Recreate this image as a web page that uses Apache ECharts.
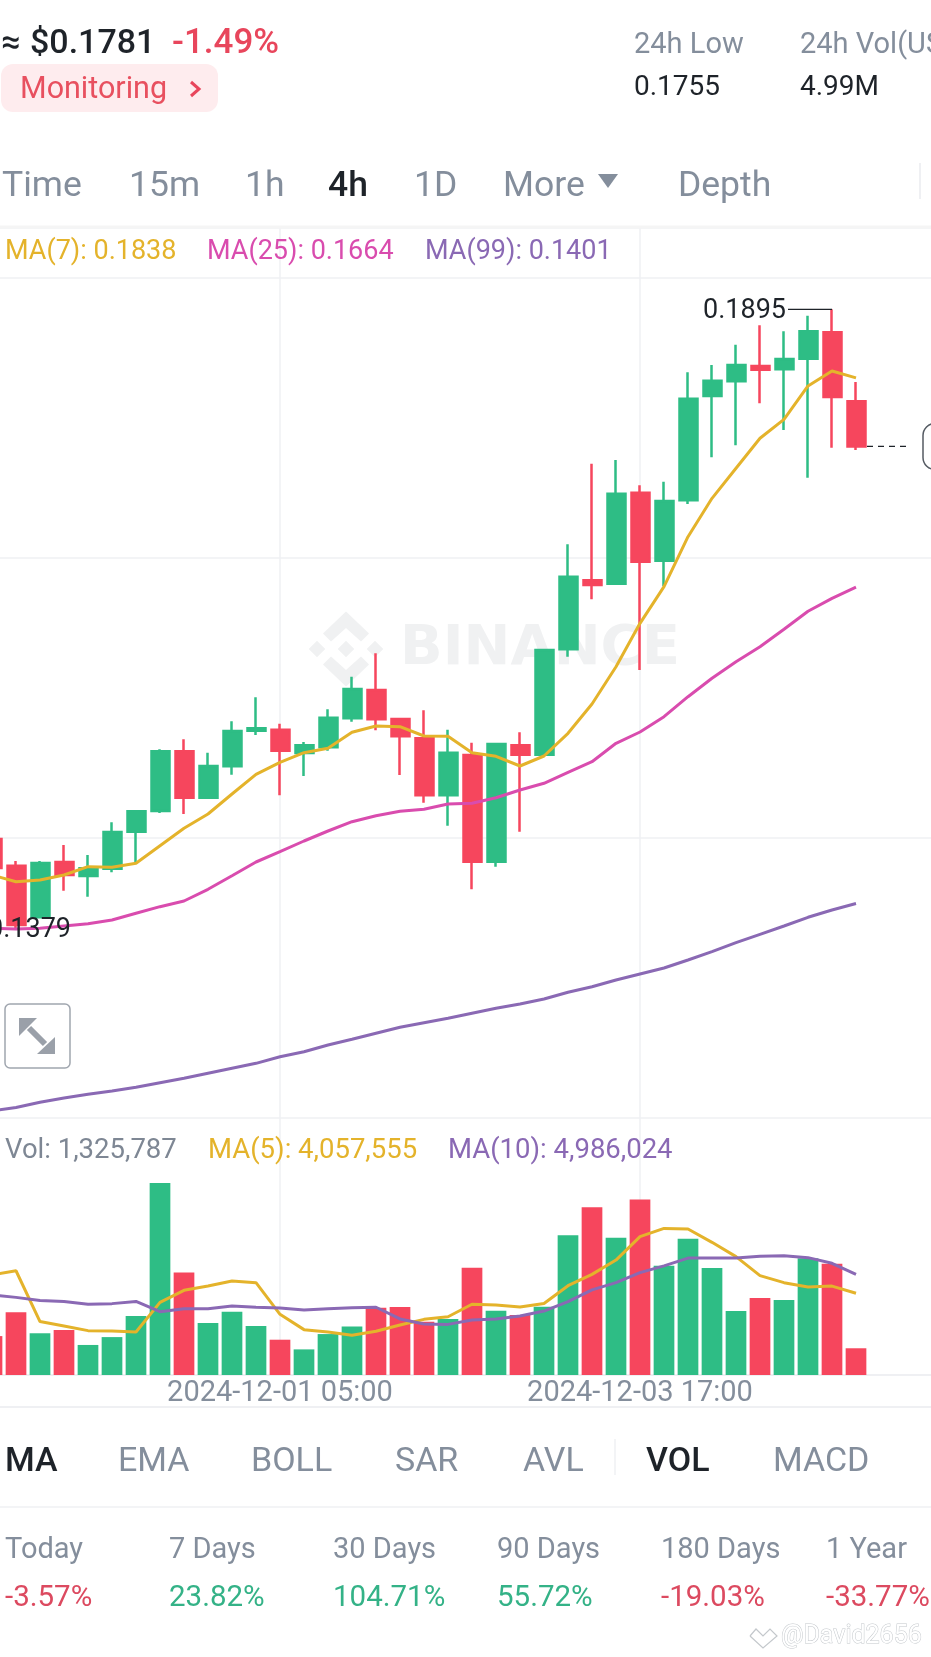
<!DOCTYPE html>
<html>
<head>
<meta charset="utf-8">
<title>4h chart</title>
<script src="https://cdn.jsdelivr.net/npm/echarts@6/dist/echarts.min.js"></script>
<style>
  html, body { margin: 0; padding: 0; background: #fff; overflow: hidden; }
  #chart { width: 931px; height: 1657px; }
</style>
</head>
<body>
<div id="chart"></div>
<script>
// candle times, the last four have no candle yet
var categories = [
  '2024-11-29 05:00','2024-11-29 09:00','2024-11-29 13:00','2024-11-29 17:00','2024-11-29 21:00',
  '2024-11-30 01:00','2024-11-30 05:00','2024-11-30 09:00','2024-11-30 13:00','2024-11-30 17:00','2024-11-30 21:00',
  '2024-12-01 01:00','2024-12-01 05:00','2024-12-01 09:00','2024-12-01 13:00','2024-12-01 17:00','2024-12-01 21:00',
  '2024-12-02 01:00','2024-12-02 05:00','2024-12-02 09:00','2024-12-02 13:00','2024-12-02 17:00','2024-12-02 21:00',
  '2024-12-03 01:00','2024-12-03 05:00','2024-12-03 09:00','2024-12-03 13:00','2024-12-03 17:00','2024-12-03 21:00',
  '2024-12-04 01:00','2024-12-04 05:00','2024-12-04 09:00','2024-12-04 13:00','2024-12-04 17:00','2024-12-04 21:00',
  '2024-12-05 01:00','2024-12-05 05:00','2024-12-05 09:00','2024-12-05 13:00','2024-12-05 17:00','2024-12-05 21:00'
];
var dateLabels = ['2024-12-01 05:00', '2024-12-03 17:00'];

var opens = [
  .145466,.143246,.138957,.14355,.14239,.142997,.146073,.147794,.152756,.148899,.151509,.154469,.154552,.152615,.153089,.1555,
  .157853,.155442,.153837,.149098,.152449,.143578,.153255,.152474,.161235,.166972,.166689,.174254,.168601,.173622,.182293,
  .183514,.184786,.184512,.185393,.187587,.181852
];
var closes = [
  .143055,.138317,.143471,.142473,.14303,.146048,.147769,.152756,.148899,.151534,.154444,.154668,.152806,.153255,.15555,.157936,
  .155417,.154004,.149098,.152639,.143578,.153364,.152474,.161177,.167271,.166581,.174171,.168518,.173564,.182068,.183565,
  .184871,.184479,.185368,.187672,.182209,.1781
];
var lows = [
  .14297,.1379,.13896,.141168,.14067,.142698,.143388,.147627,.147544,.148791,.150811,.154111,.149098,.150705,.152806,.155205,
  .154502,.150788,.148484,.146571,.141284,.143163,.146073,.152474,.160621,.165392,.16669,.159515,.166498,.173314,.177196,
  .178194,.181686,.179466,.175501,.177995,.177803
];
var highs = [
  .14555,.143637,.143637,.144967,.144136,.146854,.147852,.152923,.153754,.152639,.15525,.157246,.155051,.153529,.156248,.158958,
  .160903,.15555,.156165,.154552,.153472,.153447,.154336,.161177,.169964,.176665,.176972,.174877,.175168,.184263,.184871,
  .186556,.18817,.187672,.188968,.1895,.183456
];
var ma7 = [
  .142473,.141916,.142058,.142473,.143163,.143113,.143445,.144908,.146354,.147544,.149205,.150843,.151841,.152639,.153004,.154335,
  .154859,.1548,.154028,.154003,.152639,.15234,.151534,.152366,.154252,.156688,.15979,.163396,.16644,.170596,.173787,
  .176282,.178776,.180355,.183124,.184371,.1838
];
var ma25 = [
  .138042,.137984,.138042,.138233,.138424,.138732,.139289,.13984,.140312,.141285,.142416,.143554,.14441,.1453,.146131,.146904,
  .147403,.147768,.147934,.148375,.148433,.148899,.149539,.150096,.15101,.151891,.153421,.15436,.155632,.157295,.158824,
  .160204,.161451,.162897,.164401,.165474,.1664
];
var ma99 = [
  .122853,.123144,.123577,.123934,.124242,.124516,.124823,.125206,.125571,.125987,.126403,.126818,.127367,.127783,.12834,.128814,
  .129313,.129811,.130194,.13056,.130975,.131391,.131749,.132164,.132721,.133187,.133744,.134243,.134742,.135407,.136097,
  .136845,.137544,.138233,.138957,.139563,.1401
];
var volumes = [
  1.93e6,3.11e6,2.07e6,2.23e6,1.49e6,1.88e6,2.93e6,9.52e6,5.09e6,2.58e6,3.14e6,2.43e6,1.75e6,1.27e6,2.03e6,2.41e6,
  3.34e6,3.37e6,2.64e6,2.78e6,5.32e6,3.19e6,2.98e6,3.39e6,6.93e6,8.32e6,6.81e6,8.71e6,5.42e6,6.76e6,5.31e6,
  3.17e6,3.82e6,3.72e6,5.79e6,5.52e6,1325787
];
var volMa5 = [
  4.96e6,5.17e6,2.65e6,2.43e6,2.2e6,2.18e6,2.13e6,3.6e6,4.2e6,4.41e6,4.66e6,4.58e6,3.01e6,2.25e6,2.13e6,1.97e6,
  2.17e6,2.48e6,2.76e6,2.89e6,3.51e6,3.47e6,3.37e6,3.55e6,4.43e6,4.99e6,5.7e6,6.86e6,7.27e6,7.24e6,6.58e6,
  5.87e6,4.93e6,4.58e6,4.36e6,4.41e6,4057555
];
var volMa10 = [
  3.97e6,3.85e6,3.69e6,3.64e6,3.51e6,3.54e6,3.65e6,3.14e6,3.29e6,3.29e6,3.42e6,3.36e6,3.32e6,3.22e6,3.29e6,3.34e6,
  3.36e6,2.78e6,2.53e6,2.51e6,2.73e6,2.78e6,2.93e6,3.17e6,3.64e6,4.22e6,4.58e6,5.08e6,5.41e6,5.8e6,5.8e6,
  5.8e6,5.89e6,5.92e6,5.82e6,5.54e6,4986024
];

var periodTabs = ['Time', '15m', '1h', '4h', '1D', 'More', 'Depth'];
var periodTabX = [2, 129, 245, 328, 414, 503, 678];
var indicatorTabs = ['MA', 'EMA', 'BOLL', 'SAR', 'AVL', 'VOL', 'MACD'];
var indicatorTabX = [5, 118, 251, 395, 523, 646, 773];
var statNames = ['Today', '7 Days', '30 Days', '90 Days', '180 Days', '1 Year'];
var statValues = ['-3.57%', '23.82%', '104.71%', '55.72%', '-19.03%', '-33.77%'];
var statX = [5, 169, 333, 497, 661, 826];

var UP = '#2EBD85', DOWN = '#F6465D', YELLOW = '#E4B32B', PINK = '#D94CAE', PURPLE = '#8A69B4';
var GREY = '#848E9C', DARK = '#1E2329', LINE = '#EFF0F3';
var FONT = 'Roboto, sans-serif';

var chart = echarts.init(document.getElementById('chart'));

function lineSeries(name, data, color, xi, yi) {
  return {
    name: name, type: 'line', data: data, xAxisIndex: xi, yAxisIndex: yi,
    showSymbol: false, smooth: false, silent: true,
    lineStyle: { color: color, width: 3 }
  };
}

chart.setOption({
  animation: false,
  backgroundColor: '#fff',
  grid: [
    { left: -20, width: 984, top: 228, height: 890, outerBoundsMode: 'none' },
    { left: -20, width: 984, top: 1118, height: 257, outerBoundsMode: 'none' }
  ],
  xAxis: [
    {
      type: 'category', gridIndex: 0, data: categories,
      axisLine: { show: false }, axisTick: { show: false }, axisLabel: { show: false },
      splitLine: {
        show: true, alignWithLabel: true,
        interval: function (i, v) { return dateLabels.indexOf(v) >= 0; },
        lineStyle: { color: LINE, width: 1.5 }
      }
    },
    {
      type: 'category', gridIndex: 1, data: categories,
      axisLine: { show: true, lineStyle: { color: LINE, width: 2 } },
      axisTick: { show: false },
      axisLabel: {
        show: true, margin: 4, color: GREY, fontSize: 29, fontFamily: FONT,
        interval: function (i, v) { return dateLabels.indexOf(v) >= 0; }
      },
      splitLine: {
        show: true, alignWithLabel: true,
        interval: function (i, v) { return dateLabels.indexOf(v) >= 0; },
        lineStyle: { color: LINE, width: 1.5 }
      }
    }
  ],
  yAxis: [
    { type: 'value', gridIndex: 0, min: 0.122273, max: 0.196258, show: false, scale: true },
    // only for the horizontal rules of the price pane
    {
      type: 'value', gridIndex: 0, min: 0, max: 890, interval: 280,
      axisLine: { show: false }, axisTick: { show: false }, axisLabel: { show: false },
      splitLine: { show: true, lineStyle: { color: LINE, width: 1.5 } }
    },
    { type: 'value', gridIndex: 1, min: 0, max: 12747000, show: false }
  ],
  series: [
    {
      name: 'Price', type: 'candlestick', xAxisIndex: 0, yAxisIndex: 0, silent: true,
      barWidth: 18.5,
      data: opens.map(function (o, i) { return [o, closes[i], lows[i], highs[i]]; }),
      itemStyle: { color: UP, color0: DOWN, borderColor: UP, borderColor0: DOWN, borderWidth: 2.5 }
    },
    lineSeries('MA(7)', ma7, YELLOW, 0, 0),
    lineSeries('MA(25)', ma25, PINK, 0, 0),
    lineSeries('MA(99)', ma99, PURPLE, 0, 0),
    {
      name: 'Vol', type: 'bar', xAxisIndex: 1, yAxisIndex: 2, silent: true, barWidth: 20.7,
      data: volumes.map(function (v, i) {
        return { value: v, itemStyle: { color: closes[i] >= opens[i] ? UP : DOWN } };
      })
    },
    lineSeries('MA(5)', volMa5, YELLOW, 1, 2),
    lineSeries('MA(10)', volMa10, PURPLE, 1, 2)
  ]
});

function text(str, x, y, size, color, weight, align) {
  return {
    type: 'text', z: 60, silent: true,
    x: x, y: y + 2.5,
    style: {
      text: str, fill: color,
      font: (weight || 400) + ' ' + size + 'px ' + FONT,
      textAlign: align || 'left', textVerticalAlign: 'middle'
    }
  };
}
function poly(points, fill, z) {
  return { type: 'polygon', z: z, silent: true, shape: { points: points }, style: { fill: fill } };
}
function hline(x1, x2, y, color, width, dash) {
  return {
    type: 'line', z: 40, silent: true, shape: { x1: x1, y1: y, x2: x2, y2: y },
    style: { stroke: color, lineWidth: width, lineDash: dash || null }
  };
}

var items = [];

// header
items.push(text('≈', 1, 42, 34, DARK, 500));
items.push(text('$0.1781', 30, 42, 34, DARK, 500));
items.push(text('-1.49%', 172, 42, 35, '#E8465C', 500));
items.push({ type: 'rect', z: 50, silent: true, shape: { x: 1, y: 64, width: 217, height: 48, r: 12 }, style: { fill: '#FEECEE' } });
items.push(text('Monitoring', 20, 88, 30.5, '#E8505F'));
items.push({ type: 'polyline', z: 60, silent: true, shape: { points: [[191, 82], [199, 89], [191, 96]] }, style: { stroke: '#E8465C', lineWidth: 3, fill: null } });
items.push(text('24h Low', 634, 43, 29, GREY));
items.push(text('0.1755', 634, 85, 28, DARK));
items.push(text('24h Vol(USDT)', 800, 43, 29, GREY));
items.push(text('4.99M', 800, 85, 28, DARK));

// period tabs
periodTabs.forEach(function (t, i) {
  items.push(text(t, periodTabX[i], 185, 35.5, t === '4h' ? DARK : GREY, t === '4h' ? 500 : 400));
});
items.push(poly([[598, 174], [618, 174], [608, 188]], GREY, 60));
items.push({ type: 'line', z: 40, silent: true, shape: { x1: 920, y1: 163, x2: 920, y2: 199 }, style: { stroke: LINE, lineWidth: 2 } });
items.push(hline(0, 931, 227, '#F5F5F5', 3));

// legends
items.push(text('MA(7): 0.1838', 5, 250, 27, YELLOW));
items.push(text('MA(25): 0.1664', 207, 250, 27, PINK));
items.push(text('MA(99): 0.1401', 425, 250, 27, PURPLE));
items.push(text('Vol: 1,325,787', 5, 1149, 27.5, '#7E8794'));
items.push(text('MA(5): 4,057,555', 208, 1149, 27.5, YELLOW));
items.push(text('MA(10): 4,986,024', 448, 1149, 27.5, PURPLE));

// price labels, placed from the axes
var last = categories.length - 5;
var closePx = chart.convertToPixel({ xAxisIndex: 0, yAxisIndex: 0 }, [last, closes[last]]);
var highPx = chart.convertToPixel({ xAxisIndex: 0, yAxisIndex: 0 }, [last - 1, 0.1895]);
var lowPx = chart.convertToPixel({ xAxisIndex: 0, yAxisIndex: 0 }, [1, 0.1379]);
items.push(hline(closePx[0] + 11, closePx[0] + 53, closePx[1], DARK, 1.2, [6, 5]));
items.push({ type: 'rect', z: 50, silent: true, shape: { x: 923, y: closePx[1] - 23, width: 40, height: 46, r: 12 }, style: { fill: '#fff', stroke: '#555B63', lineWidth: 1.5 } });
items.push(hline(highPx[0] - 44, highPx[0], highPx[1], DARK, 1.2));
items.push(text('0.1895', highPx[0] - 46, highPx[1] - 1, 27, DARK, 400, 'right'));
items.push(text('0.1379', lowPx[0] + 55, lowPx[1] - 2, 27, DARK, 400, 'right'));

// expand button
items.push({ type: 'rect', z: 50, silent: true, shape: { x: 5, y: 1004, width: 65, height: 64, r: 5 }, style: { fill: '#fff', stroke: '#A0A6AF', lineWidth: 1.5 } });
items.push(poly([[19, 1018], [37, 1018], [19, 1036]], '#9AA0A9', 60));
items.push(poly([[55, 1054], [37, 1054], [55, 1037]], '#9AA0A9', 60));
items.push({ type: 'line', z: 60, silent: true, shape: { x1: 29, y1: 1028, x2: 45, y2: 1044 }, style: { stroke: '#9AA0A9', lineWidth: 6 } });

// exchange watermark behind the candles
var WM = '#F0F1F2', cx = 346, cy = 649;
function diamond(x, y, r) { return poly([[x, y - r], [x + r, y], [x, y + r], [x - r, y]], WM, 1); }
items.push(diamond(cx, cy, 8.3), diamond(cx - 29, cy, 8.3), diamond(cx + 29, cy, 8.3));
[-1, 1].forEach(function (s) {
  items.push(poly([[cx, cy + s * 37.5], [cx + 23, cy + s * 15.5], [cx + 15, cy + s * 7.5], [cx, cy + s * 21], [cx - 15, cy + s * 7.5], [cx - 23, cy + s * 15.5]], WM, 1));
});
items.push({ type: 'text', z: 1, silent: true, x: 400, y: 649, style: { text: 'BINANCE', fill: WM, font: '700 56px "DejaVu Sans"', textVerticalAlign: 'middle' } });

// footer tabs and stats
items.push(hline(0, 931, 1407, LINE, 2));
indicatorTabs.forEach(function (t, i) {
  var on = t === 'MA' || t === 'VOL';
  items.push(text(t, indicatorTabX[i], 1460, 34, on ? DARK : GREY, on ? 500 : 400));
});
items.push({ type: 'line', z: 40, silent: true, shape: { x1: 615, y1: 1439, x2: 615, y2: 1475 }, style: { stroke: LINE, lineWidth: 1.5 } });
items.push(hline(0, 931, 1507, LINE, 1.5));
statNames.forEach(function (t, i) {
  items.push(text(t, statX[i], 1548, 29, GREY));
  var v = statValues[i];
  items.push(text(v, statX[i], 1596, 29.5, v.charAt(0) === '-' ? '#DC4A60' : '#34B287'));
});

// share watermark
items.push({
  type: 'text', z: 60, silent: true, x: 781, y: 1637,
  style: { text: '@David2656', fill: '#fff', stroke: '#C4C8CC', lineWidth: 1, font: '25px ' + FONT, textVerticalAlign: 'middle' }
});
items.push({ type: 'polyline', z: 60, silent: true, shape: { points: [[750, 1636], [763, 1648], [777, 1636], [770, 1629], [763, 1636], [756, 1629], [750, 1636]] }, style: { stroke: '#C4C8CC', lineWidth: 1.2, fill: null } });

chart.setOption({ graphic: items });
</script>
</body>
</html>
